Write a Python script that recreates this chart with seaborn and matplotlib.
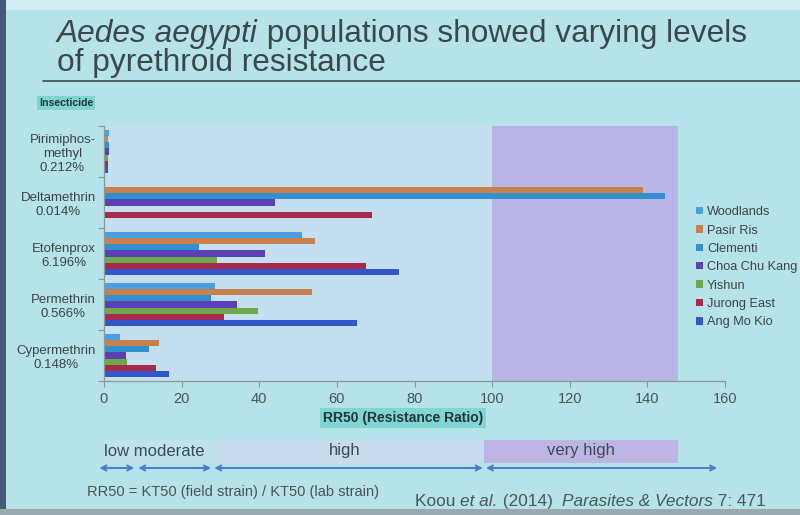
import numpy as np
import pandas as pd
import matplotlib
matplotlib.use("Agg")
import matplotlib.pyplot as plt
import matplotlib.transforms as mtransforms
from matplotlib.patches import Patch, Rectangle
import seaborn as sns

# ---- data -----------------------------------------------------------------
insecticides = ["Pirimiphos-\nmethyl\n0.212%", "Deltamethrin\n0.014%",
                "Etofenprox\n6.196%", "Permethrin\n0.566%", "Cypermethrin\n0.148%"]
populations = ["Woodlands", "Pasir Ris", "Clementi", "Choa Chu Kang",
               "Yishun", "Jurong East", "Ang Mo Kio"]

woodlands     = [1.2, np.nan, 51.0, 28.7, 4.0]
pasir_ris     = [1.1, 139.0, 54.3, 53.7, 14.2]
clementi      = [1.4, 144.5, 24.6, 27.5, 11.6]
choa_chu_kang = [1.3, 44.0, 41.6, 34.2, 5.7]
yishun        = [1.1, np.nan, 29.2, 39.8, 5.8]
jurong_east   = [1.0, 69.0, 67.6, 31.0, 13.5]
ang_mo_kio    = [1.0, np.nan, 76.1, 65.2, 16.7]

x_ticks = [0, 20, 40, 60, 80, 100, 120, 140, 160]
level_names = ["low moderate", "high", "very high"]

series = [woodlands, pasir_ris, clementi, choa_chu_kang, yishun, jurong_east, ang_mo_kio]
df = pd.DataFrame([
    {"insecticide": ins, "population": pop, "rr50": v}
    for pop, vals in zip(populations, series)
    for ins, v in zip(insecticides, vals)
]).dropna()

colors = ["#4a9fe0", "#c8804e", "#3390d0", "#5a3fb6", "#6ea84a", "#a8294c", "#3158c8"]

# ---- figure -----------------------------------------------------------------
sns.set_theme(style="white")
plt.rcParams["font.family"] = ["Liberation Sans", "DejaVu Sans"]

W, H = 800, 515
slide_bg = "#b6e3ea"
fig = plt.figure(figsize=(W / 100, H / 100), dpi=100, facecolor=slide_bg)

def fx(px):
    return px / W

def fy(py):
    return 1 - py / H

# photo edges of the projected slide
fig.add_artist(Rectangle((0, fy(10)), 1, 10 / H, transform=fig.transFigure,
                         facecolor="#d2ecf0", edgecolor="none"))
fig.add_artist(Rectangle((0, 0), fx(6), 1, transform=fig.transFigure,
                         facecolor="#47597a", edgecolor="none"))
fig.add_artist(Rectangle((0, 0), 1, 6 / H, transform=fig.transFigure,
                         facecolor="#9aa9ae", edgecolor="none"))

ax = fig.add_axes([fx(104), fy(381), fx(725) - fx(104), fy(126) - fy(381)])
ax.set_facecolor("none")

# resistance zones behind the bars
ax.axvspan(0, 100, color="#c3dff0", zorder=0, lw=0)
ax.axvspan(100, 148, color="#b9b5e6", zorder=0, lw=0)

sns.barplot(data=df, y="insecticide", x="rr50", hue="population",
            order=insecticides, hue_order=populations, palette=colors,
            orient="h", width=0.84, gap=0, saturation=1, errorbar=None,
            legend=False, ax=ax, zorder=2, linewidth=0, edgecolor="none")

ax.set_xlim(0, 160)
ax.set_ylim(4.5, -0.5)
ax.set_xlabel("")
ax.set_ylabel("")
ax.set_xticks(x_ticks)
ax.tick_params(axis="x", length=4, width=0.8, color="#8a989c", pad=4,
               labelsize=10.5, labelcolor="#4a5458", direction="out", bottom=True)
ax.set_yticks(range(len(insecticides)))
ax.set_yticklabels(insecticides)
ax.set_yticks(np.arange(-0.5, len(insecticides)), minor=True)
ax.tick_params(axis="y", which="major", length=0, pad=6, labelsize=9.5,
               labelcolor="#3a4448")
ax.tick_params(axis="y", which="minor", length=4, width=0.8, color="#8a989c",
               direction="out", left=True)
for lab in ax.get_yticklabels():
    lab.set_multialignment("center")
    lab.set_linespacing(1.25)
for side in ("top", "right"):
    ax.spines[side].set_visible(False)
for side in ("left", "bottom"):
    ax.spines[side].set_color("#8a989c")
    ax.spines[side].set_linewidth(0.9)

# axis captions with highlighted boxes
fig.text(fx(39), fy(103), "Insecticide", fontsize=7.6, fontweight="bold",
         color="#24343a", ha="left", va="center",
         bbox=dict(facecolor="#7fd5d3", edgecolor="none", pad=1.6))
fig.text(fx(403), fy(418), "RR50 (Resistance Ratio)", fontsize=10,
         fontweight="bold", color="#24343a", ha="center", va="center",
         bbox=dict(facecolor="#80d6d4", edgecolor="none", pad=2))

# legend
handles = [Patch(facecolor=c, edgecolor="none") for c in colors]
fig.legend(handles, populations, loc="upper left",
           bbox_to_anchor=(fx(691), fy(201)), frameon=False, fontsize=9.2,
           labelcolor="#3a4448", handlelength=0.5, handleheight=0.5,
           handletextpad=0.35, labelspacing=0.5, borderaxespad=0)

# resistance level band under the axis
blend = mtransforms.blended_transform_factory(ax.transData, fig.transFigure)
band_bottom, band_h = fy(463), 23 / H
ax.add_patch(Rectangle((0, band_bottom), 29, band_h, transform=blend,
                       facecolor="#bfe2ee", edgecolor="none", clip_on=False))
ax.add_patch(Rectangle((29, band_bottom), 69, band_h, transform=blend,
                       facecolor="#c9dcef", edgecolor="none", clip_on=False))
ax.add_patch(Rectangle((98, band_bottom), 50, band_h, transform=blend,
                       facecolor="#bdb5e4", edgecolor="none", clip_on=False))
level_x = [0, 62, 123]
level_ha = ["left", "center", "center"]
for name, x, ha in zip(level_names, level_x, level_ha):
    ax.text(x, fy(451), name, transform=blend, fontsize=12, color="#3a4a58",
            ha=ha, va="center", clip_on=False)

arrow_spans = [(-1.2, 7.8), (8.8, 27.6), (28.4, 97.6), (98.4, 158)]
for x0, x1 in arrow_spans:
    ax.annotate("", xy=(x1, fy(468)), xytext=(x0, fy(468)),
                xycoords=blend, textcoords=blend, annotation_clip=False,
                arrowprops=dict(arrowstyle="<->", color="#4a7ccc", lw=1.4,
                                shrinkA=0, shrinkB=0, mutation_scale=9))

# rich text helper: draws pieces one after another on a line
renderer = fig.canvas.get_renderer()

def rich_line(x_px, y_px, pieces, **kw):
    x = fx(x_px)
    for text, style in pieces:
        t = fig.text(x, fy(y_px), text, style=style, ha="left",
                     va="baseline", **kw)
        bb = t.get_window_extent(renderer=renderer)
        x += bb.width / W

title_kw = dict(fontsize=22.8, color="#3a484e")
rich_line(57, 42, [("Aedes aegypti", "italic"),
                   (" populations showed varying levels", "normal")], **title_kw)
rich_line(57, 71, [("of pyrethroid resistance", "normal")], **title_kw)
fig.add_artist(plt.Line2D([fx(43), 1], [fy(81), fy(81)], color="#3c4a4e",
                          lw=1.2, transform=fig.transFigure))

fig.text(fx(87), fy(496), "RR50 = KT50 (field strain) / KT50 (lab strain)",
         fontsize=10.5, color="#4a5254", ha="left", va="baseline")
rich_line(415, 506, [("Koou ", "normal"), ("et al.", "italic"),
                     (" (2014)  ", "normal"), ("Parasites & Vectors", "italic"),
                     (" 7: 471", "normal")], fontsize=12.4, color="#4a5658")

fig.savefig("out.png", dpi=100, facecolor=fig.get_facecolor())
